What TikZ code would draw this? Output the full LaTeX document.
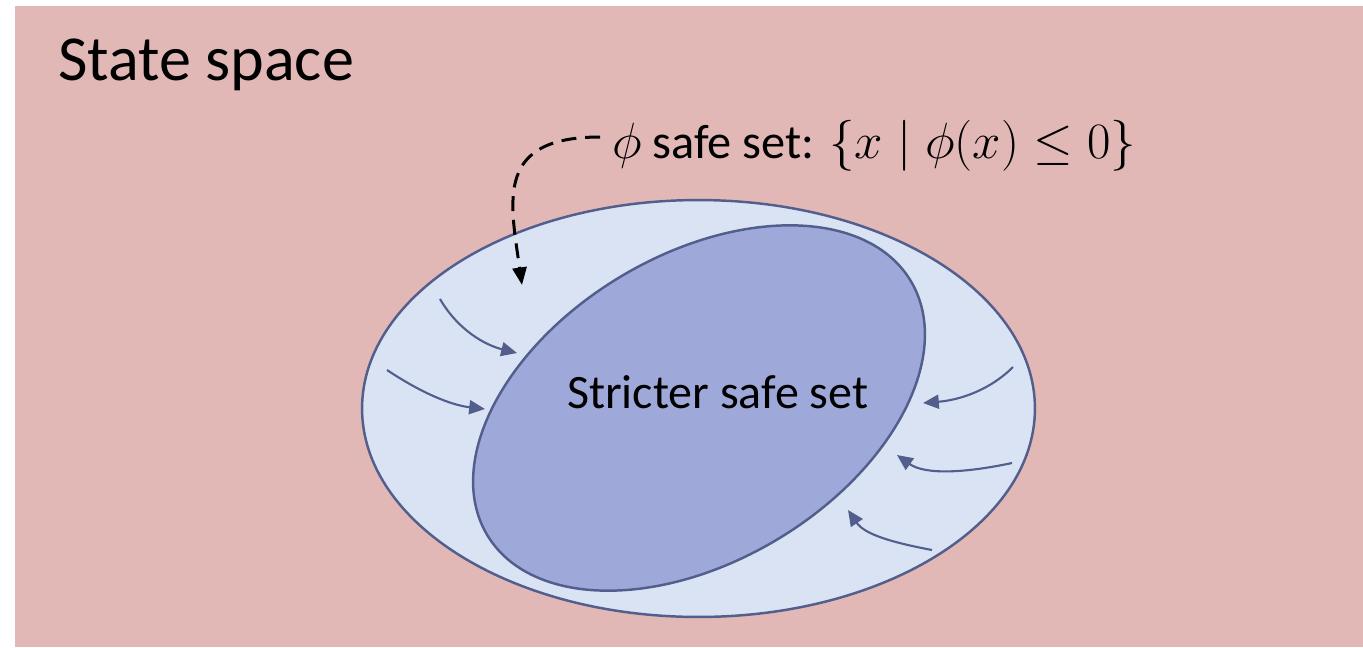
\documentclass[tikz,border=0pt]{standalone}
\usepackage{fix-cm}
\usepackage{fontspec}
\setmainfont{Carlito}
\usetikzlibrary{arrows.meta,shapes.geometric}
\definecolor{bgpink}{HTML}{E2B8B7}
\definecolor{outerfill}{HTML}{DAE3F3}
\definecolor{innerfill}{HTML}{9EA9DA}
\definecolor{edgeblue}{HTML}{525E8C}
\begin{document}
\begin{tikzpicture}[x=0.02cm,y=-0.02cm,
  region/.style={ellipse, draw=edgeblue, line width=1.4pt, inner sep=0pt, outer sep=0pt},
  flowarrow/.style={draw=edgeblue, line width=1.2pt, -{Triangle[length=9pt,width=8pt]}},
  pointer/.style={draw=black, line width=1.7pt, dash pattern=on 8.5pt off 5pt, -{Triangle[length=10pt,width=8pt]}},
  lbl/.style={inner sep=0pt, outer sep=0pt, text=black}]
\useasboundingbox (0,0) rectangle (1363,647);
\fill[bgpink] (15,6) rectangle (1363,647);
% regions
\node[region, fill=outerfill, minimum width=13.46cm, minimum height=8.34cm] (outer) at (698.5,408.5) {};
\node[region, fill=innerfill, rotate=31, minimum width=9.88cm, minimum height=6.12cm] (inner) at (699,408) {};
% labels
\node[lbl, anchor=base west, font=\fontsize{36.5}{42}\selectfont] (title) at (58,80) {State space};
\node[lbl, anchor=base west, font=\fontsize{27.3}{32}\selectfont] (strict) at (567,408) {Stricter safe set};
\node[lbl, anchor=base west, font=\fontsize{27.5}{32}\selectfont] (phiset) at (612,158) {{\fontsize{29}{34}\selectfont$\phi$} safe set: {\fontsize{29}{35}\selectfont$\{x \mid \phi(x) \leq 0\}$}};
% pointer coordinates
\coordinate (ptail) at (600,137);
\coordinate (ptip) at (522,285);
\draw[pointer] (ptail) .. controls (495,137) and (510,200) .. (ptip);
% flow arrows
\coordinate (a1s) at (440,299); \coordinate (a1e) at (517,353);
\coordinate (a2s) at (387,370); \coordinate (a2e) at (485,409);
\coordinate (a3s) at (1013,367); \coordinate (a3e) at (923,403);
\coordinate (a4s) at (1012,463); \coordinate (a4e) at (897,455);
\coordinate (a5s) at (932,550); \coordinate (a5e) at (848,510);
\draw[flowarrow] (a1s) .. controls (458,330) and (485,345) .. (a1e);
\draw[flowarrow] (a2s) .. controls (420,392) and (450,405) .. (a2e);
\draw[flowarrow] (a3s) .. controls (990,390) and (960,400) .. (a3e);
\draw[flowarrow] (a4s) .. controls (965,473) and (925,475) .. (a4e);
\draw[flowarrow] (a5s) .. controls (895,543) and (865,535) .. (a5e);
\end{tikzpicture}
\end{document}
